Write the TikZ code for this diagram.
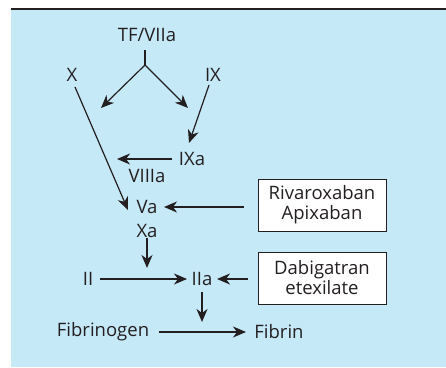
\documentclass[tikz,border=0pt]{standalone}
\usepackage{fontspec}
\setmainfont{Open Sans}
\usetikzlibrary{arrows.meta}
\definecolor{panel}{RGB}{198,233,248}
\definecolor{ink}{RGB}{35,31,32}
\tikzset{
  lbl/.style={inner sep=1pt, text=ink, font=\fontsize{18.5}{20}\selectfont},
  drug/.style={draw=ink, line width=1pt, fill=white, align=center, text=ink,
    minimum width=128pt, minimum height=52pt, inner sep=2pt,
    font=\fontsize{18.5}{20}\selectfont},
  arr/.style={draw=ink, line width=1.2pt, -{Stealth[length=13pt,width=11pt,inset=4pt]}},
  ln/.style={draw=ink, line width=1.2pt}
}
\begin{document}
\begin{tikzpicture}[x=1pt,y=1pt]
\useasboundingbox (0,0) rectangle (446,-367);
\fill[panel] (11,-10) rectangle (446,-367);
\draw[ink, line width=2pt] (11,-8.5) -- (446,-8.5);

\node[lbl] (TF) at (147,-35) {TF/VIIa};
\node[lbl] (X) at (72,-75) {X};
\node[lbl] (IX) at (213,-75) {IX};
\node[lbl] (IXa) at (192,-159) {IXa};
\node[lbl] (VIIIa) at (147,-176) {VIIIa};
\node[lbl] (Va) at (147,-207) {Va};
\node[lbl] (Xa) at (147,-231) {Xa};
\node[lbl] (II) at (88,-279) {II};
\node[lbl] (IIa) at (202,-279) {IIa};
\node[lbl] (Fib) at (103,-332) {Fibrinogen};
\node[lbl] (Fibrin) at (279,-332) {Fibrin};
\node[drug] (riva) at (322,-205) {Rivaroxaban\\Apixaban};
\node[drug] (dabi) at (322,-278) {Dabigatran\\etexilate};

\coordinate (br) at (145,-65);
\coordinate (cl) at (101,-108);
\coordinate (cr) at (188,-108);
\coordinate (cv) at (117,-159);
\coordinate (cx) at (147,-268);
\coordinate (cii) at (202,-322);

\draw[ln] ([shift={(-2,-15)}]TF.center) -- (br);
\draw[arr] (br) -- (cl);
\draw[arr] (br) -- (cr);
\draw[arr] ([shift={(3,-12)}]X.center) -- ([shift={(-19,-3)}]Va.center);
\draw[arr] ([shift={(-4,-10)}]IX.center) -- ([shift={(-3,16)}]IXa.center);
\draw[arr] ([shift={(-20,0)}]IXa.center) -- (cv);
\draw[arr] ([xshift=-14pt]riva.west |- Va) -- ([shift={(17,0)}]Va.center);
\draw[arr] ([shift={(0,-7)}]Xa.center) -- (cx);
\draw[arr] ([shift={(12,0)}]II.center) -- ([shift={(-15,0)}]IIa.center);
\draw[arr] ([xshift=-10pt]dabi.west |- IIa) -- ([shift={(15,0)}]IIa.center);
\draw[arr] ([shift={(0,-13)}]IIa.center) -- (cii);
\draw[arr] ([shift={(56,0)}]Fib.center) -- ([shift={(-33,0)}]Fibrin.center);
\end{tikzpicture}
\end{document}
